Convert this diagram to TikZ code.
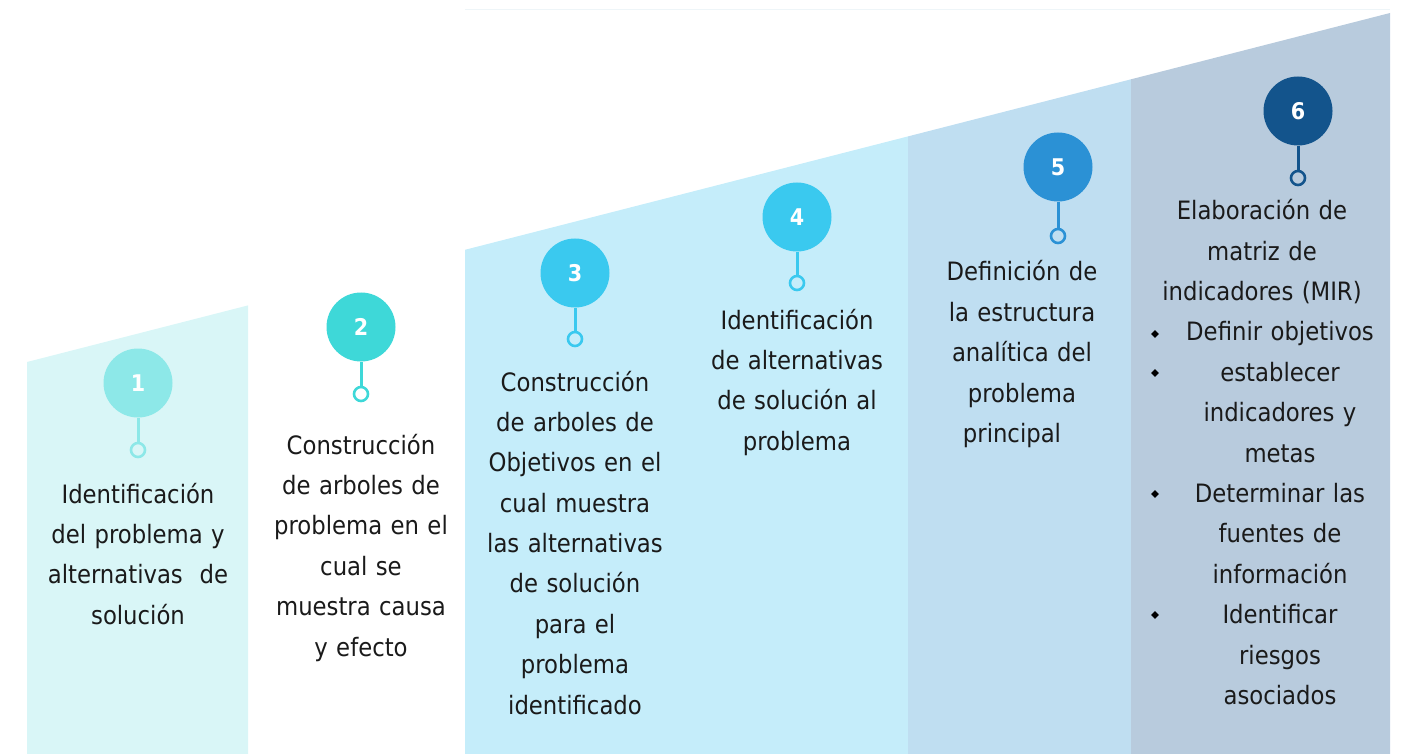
\documentclass[tikz,border=0pt]{standalone}
\usepackage{fontspec}
\setmainfont{DejaVu Sans Condensed}
\usetikzlibrary{shapes.geometric}
\definecolor{panelA}{HTML}{D9F6F7}
\definecolor{panelC}{HTML}{C5EDFA}
\definecolor{panelE}{HTML}{BFDEF1}
\definecolor{panelF}{HTML}{B8CBDD}
\definecolor{dotA}{HTML}{8DE8E8}
\definecolor{dotB}{HTML}{3ED8D8}
\definecolor{dotC}{HTML}{3AC9EF}
\definecolor{dotE}{HTML}{2B91D5}
\definecolor{dotF}{HTML}{13548C}
\definecolor{txtgray}{HTML}{1A1A1A}
\definecolor{topline}{HTML}{EEF5F8}
\begin{document}
\begin{tikzpicture}[x=1pt, y=-1pt]
\tikzset{stepdot/.style={shape=circle, minimum size=69pt, inner sep=0pt, text=white, font=\fontsize{23}{23}\selectfont\bfseries}}
\tikzset{stepring/.style={shape=circle, minimum size=14pt, inner sep=0pt, draw, line width=2.6pt}}
\tikzset{stepstem/.style={line width=3pt}}
\tikzset{steptxt/.style={anchor=base, inner sep=0pt, text width=250pt, align=center, text=txtgray, font=\fontsize{25.3}{40.4}\selectfont}}
\tikzset{stepbullet/.style={shape=diamond, minimum size=8pt, inner sep=0pt, fill=black}}
\useasboundingbox (0,0) rectangle (1401,754);
% background panels
\fill[panelA] (27,754) -- (27,362) -- (248,305.4) -- (248,754) -- cycle;
\fill[panelC] (465,754) -- (465,249.8) -- (908,136.4) -- (908,754) -- cycle;
\fill[panelE] (908,754) -- (908,136.4) -- (1131,79.3) -- (1131,754) -- cycle;
\fill[panelF] (1131,754) -- (1131,79.3) -- (1390,13) -- (1390,754) -- cycle;
\draw[topline, line width=1pt] (465,9.5) -- (1390,9.5);
% numbered circles
\node (c1) [stepdot, fill=dotA] at (138,383) {1};
\node (c2) [stepdot, fill=dotB] at (361,327) {2};
\node (c3) [stepdot, fill=dotC] at (575,273) {3};
\node (c4) [stepdot, fill=dotC] at (797,217) {4};
\node (c5) [stepdot, fill=dotE] at (1058,167) {5};
\node (c6) [stepdot, fill=dotF] at (1298,111) {6};
% rings
\node (r1) [stepring, draw=dotA] at (138,450) {};
\node (r2) [stepring, draw=dotB] at (361,394) {};
\node (r3) [stepring, draw=dotC] at (575,339) {};
\node (r4) [stepring, draw=dotC] at (797,283) {};
\node (r5) [stepring, draw=dotE] at (1058,236) {};
\node (r6) [stepring, draw=dotF] at (1298,178) {};
% stems
\draw[stepstem, dotA] (c1) -- (r1);
\draw[stepstem, dotB] (c2) -- (r2);
\draw[stepstem, dotC] (c3) -- (r3);
\draw[stepstem, dotC] (c4) -- (r4);
\draw[stepstem, dotE] (c5) -- (r5);
\draw[stepstem, dotF] (c6) -- (r6);
% texts
\node (t1) [steptxt] at (138,503) {Identificación\\del problema y\\alternativas~ de\\solución};
\node (t2) [steptxt] at (361,454) {Construcción\\de arboles de\\problema en el\\cual se\\muestra causa\\y efecto};
\node (t3) [steptxt] at (575,391) {Construcción\\de arboles de\\Objetivos en el\\cual muestra\\las alternativas\\de solución\\para el\\problema\\identificado};
\node (t4) [steptxt] at (797,329) {Identificación\\de alternativas\\de solución al\\problema};
\node (t5) [steptxt] at (1022,281) {Definición de\\la estructura\\analítica del\\problema\\principal\hspace*{20pt}};
\node (t6) [steptxt] at (1262,220) {Elaboración de\\matriz de\\indicadores (MIR)};
\node (t7) [steptxt] at (1280,341) {Definir objetivos\\establecer\\indicadores y\\metas\\Determinar las\\fuentes de\\información\\Identificar\\riesgos\\asociados};
% bullets
\node (b1) [stepbullet] at (1155,334) {};
\node (b2) [stepbullet] at (1155,373) {};
\node (b3) [stepbullet] at (1155,494) {};
\node (b4) [stepbullet] at (1155,615) {};
\end{tikzpicture}
\end{document}
